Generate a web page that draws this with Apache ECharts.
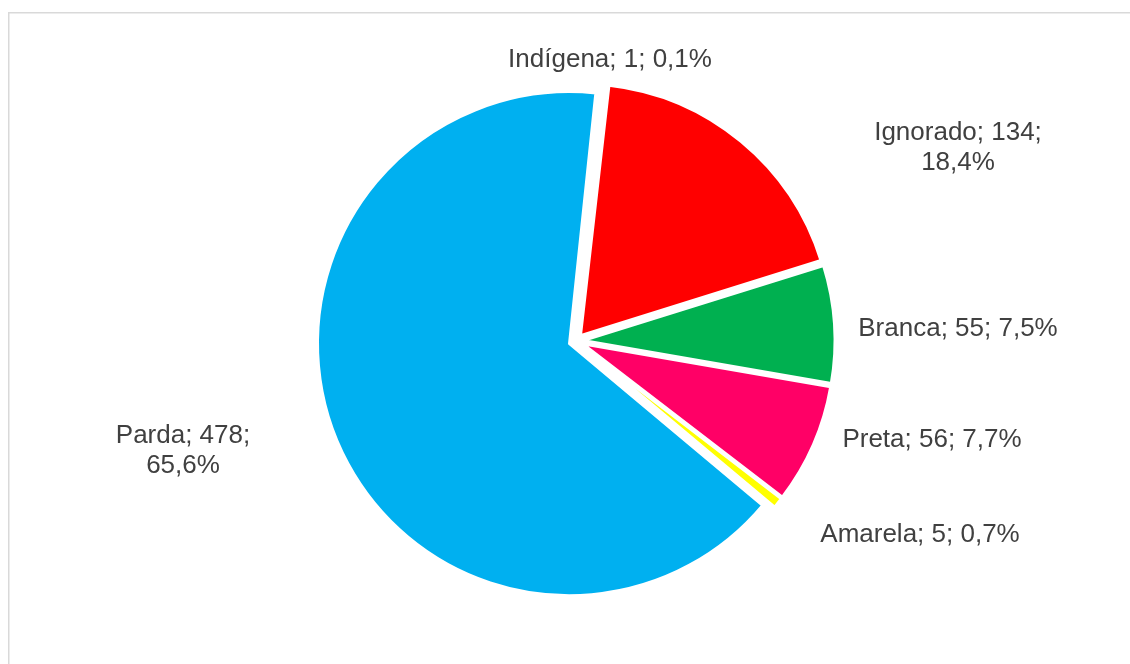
<!DOCTYPE html>
<html>
<head>
<meta charset="utf-8">
<script src="https://cdn.jsdelivr.net/npm/echarts@6/dist/echarts.min.js"></script>
<style>
html,body{margin:0;padding:0;background:#fff;}
#chart{width:1130px;height:664px;}
</style>
</head>
<body>
<div id="chart"></div>
<script>
// Data
var categories = ['Indígena', 'Ignorado', 'Branca', 'Preta', 'Amarela', 'Parda'];
var values = [1, 134, 55, 56, 5, 478];
var sliceColors = ['#7030A0', '#FF0000', '#00B050', '#FF0066', '#FFFF00', '#00B0F0'];
// labels that wrap after the value
var wrapLabels = ['Ignorado', 'Parda'];
// label anchor positions (px) — layout only
var labelAnchors = [[610, 60], [958, 148], [958, 329], [932, 440], [920, 535], [183, 451]];

var chart = echarts.init(document.getElementById('chart'), null, {renderer: 'canvas'});
var sliceData = categories.map(function (c, i) {
  return {name: c, value: values[i], selected: true, itemStyle: {color: sliceColors[i]}};
});
var labelData = categories.map(function (c, i) {
  return {name: c, value: values[i]};
});

var pieCenter = [576, 341];
var pieRadius = 252;

chart.setOption({
  animation: false,
  backgroundColor: '#ffffff',
  graphic: [{
    type: 'rect',
    shape: {x: 8.75, y: 12.75, width: 1300, height: 1000},
    style: {fill: 'none', stroke: '#d9d9d9', lineWidth: 1.5},
    silent: true
  }],
  series: [{
    type: 'pie',
    center: pieCenter,
    radius: [0, pieRadius],
    startAngle: 84,
    clockwise: true,
    minAngle: 0,
    avoidLabelOverlap: false,
    selectedMode: 'multiple',
    selectedOffset: 7,
    itemStyle: {borderColor: '#ffffff', borderWidth: 3},
    emphasis: {disabled: true},
    label: {show: false},
    labelLine: {show: false},
    data: sliceData
  }, {
    type: 'pie',
    center: pieCenter,
    radius: [0, pieRadius],
    startAngle: 84,
    clockwise: true,
    minAngle: 0,
    silent: true,
    avoidLabelOverlap: false,
    percentPrecision: 1,
    itemStyle: {color: 'rgba(0,0,0,0)', borderWidth: 0},
    emphasis: {disabled: true},
    label: {
      show: true,
      position: 'outside',
      color: '#404040',
      fontFamily: 'Liberation Sans, Arial, sans-serif',
      fontSize: 26,
      lineHeight: 30,
      align: 'center',
      formatter: function (p) {
        var pct = p.percent.toFixed(1).replace('.', ',') + '%';
        var sep = wrapLabels.indexOf(p.name) >= 0 ? ';\n' : '; ';
        return p.name + '; ' + p.value + sep + pct;
      }
    },
    labelLine: {show: false},
    labelLayout: function (params) {
      var a = labelAnchors[params.dataIndex];
      return {x: a[0], y: a[1], align: 'center', verticalAlign: 'middle'};
    },
    data: labelData
  }]
});
</script>
</body>
</html>
